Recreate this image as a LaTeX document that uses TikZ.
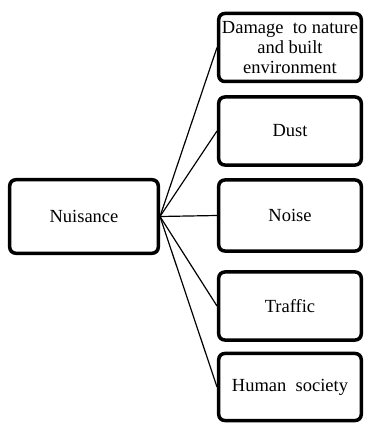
\documentclass[tikz,border=0pt]{standalone}
\usepackage{fontspec}
\setmainfont{Liberation Serif}
\begin{document}
\begin{tikzpicture}[x=1bp,y=1bp,
  box/.style={draw=black,line width=3.5bp,rounded corners=6bp,align=center,
    inner sep=2bp,font=\fontsize{18.5bp}{20bp}\selectfont},
  link/.style={draw=black,line width=1.2bp}]
\useasboundingbox (0,0) rectangle (365,424);
% hub
\node[box,minimum width=148.5bp,minimum height=73.5bp] (nuis) at (84,207.5) {Nuisance};
% branches
\node[box,minimum width=142.5bp,minimum height=68bp] (dmg) at (290,376.5) {Damage\ \ to nature\\and built\\environment};
\node[box,minimum width=142.5bp,minimum height=68bp] (dust) at (290,293) {Dust};
\node[box,minimum width=142.5bp,minimum height=71bp] (noise) at (290,208.5) {Noise};
\node[box,minimum width=142.5bp,minimum height=68bp] (traf) at (290,118) {Traffic};
\node[box,minimum width=142.5bp,minimum height=67bp] (hum) at (290,37) {Human\ \ society};
\draw[link] (nuis.east) -- (dmg.west);
\draw[link] (nuis.east) -- (dust.west);
\draw[link] (nuis.east) -- (noise.west);
\draw[link] (nuis.east) -- (traf.west);
\draw[link] (nuis.east) -- (hum.west);
\end{tikzpicture}
\end{document}
